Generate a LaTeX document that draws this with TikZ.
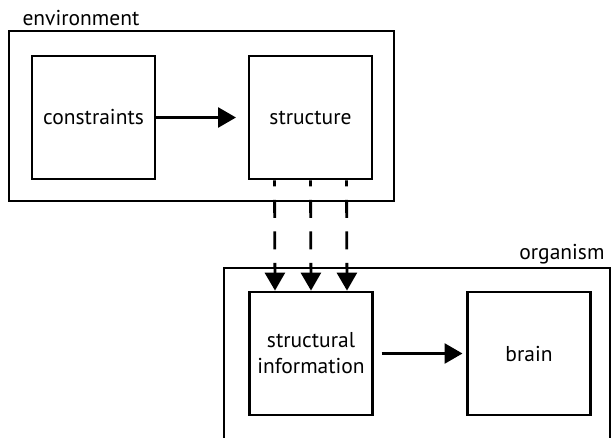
\documentclass[tikz,border=0pt]{standalone}
\usepackage{fontspec}
\setmainfont{PT Sans}
\usetikzlibrary{arrows.meta}

\begin{document}
\begin{tikzpicture}[x=1pt, y=-1pt,
  outer/.style={draw, line width=1.2pt, minimum width=385pt, minimum height=170pt},
  box/.style={draw, line width=2.8pt, minimum width=123pt, minimum height=123pt, align=center, font=\fontsize{21.5}{26}\selectfont},
  tag/.style={font=\fontsize{21.5}{26}\selectfont},
  arrow/.style={-{Triangle[length=18pt, width=20pt]}, line width=2.8pt},
  dasharrow/.style={arrow, dash pattern=on 18pt off 13.5pt, dash phase=12pt}
]
  \path[use as bounding box, clip] (0,0) rectangle (611,437);

  % Environment
  \node[outer] (environment) at (201.5,116) {};
  \node[tag, anchor=base west] (envlabel) at (19,25) {environment};
  \node[box] (constraints) at (93.5,117.5) {constraints};
  \node[box] (structure) at (310.5,117.5) {structure};

  % Organism
  \node[outer, minimum width=386pt, minimum height=200pt] (organism) at (417,368) {};
  \node[tag, anchor=base east] (orglabel) at (608,259) {organism};
  \node[box] (structinfo) at (311,353.5) {structural\\information};
  \node[box] (brain) at (529,353.5) {brain};

  \draw[arrow, shorten >=11.6pt] (constraints) -- (structure);
  \draw[arrow, shorten <=7.6pt, shorten >=3.6pt] (structinfo) -- (brain);
  \foreach \dx in {-36,0,36}
    \draw[dasharrow] ([xshift=\dx pt]structure.south) -- ([xshift=\dx pt]structinfo.north);
\end{tikzpicture}
\end{document}
